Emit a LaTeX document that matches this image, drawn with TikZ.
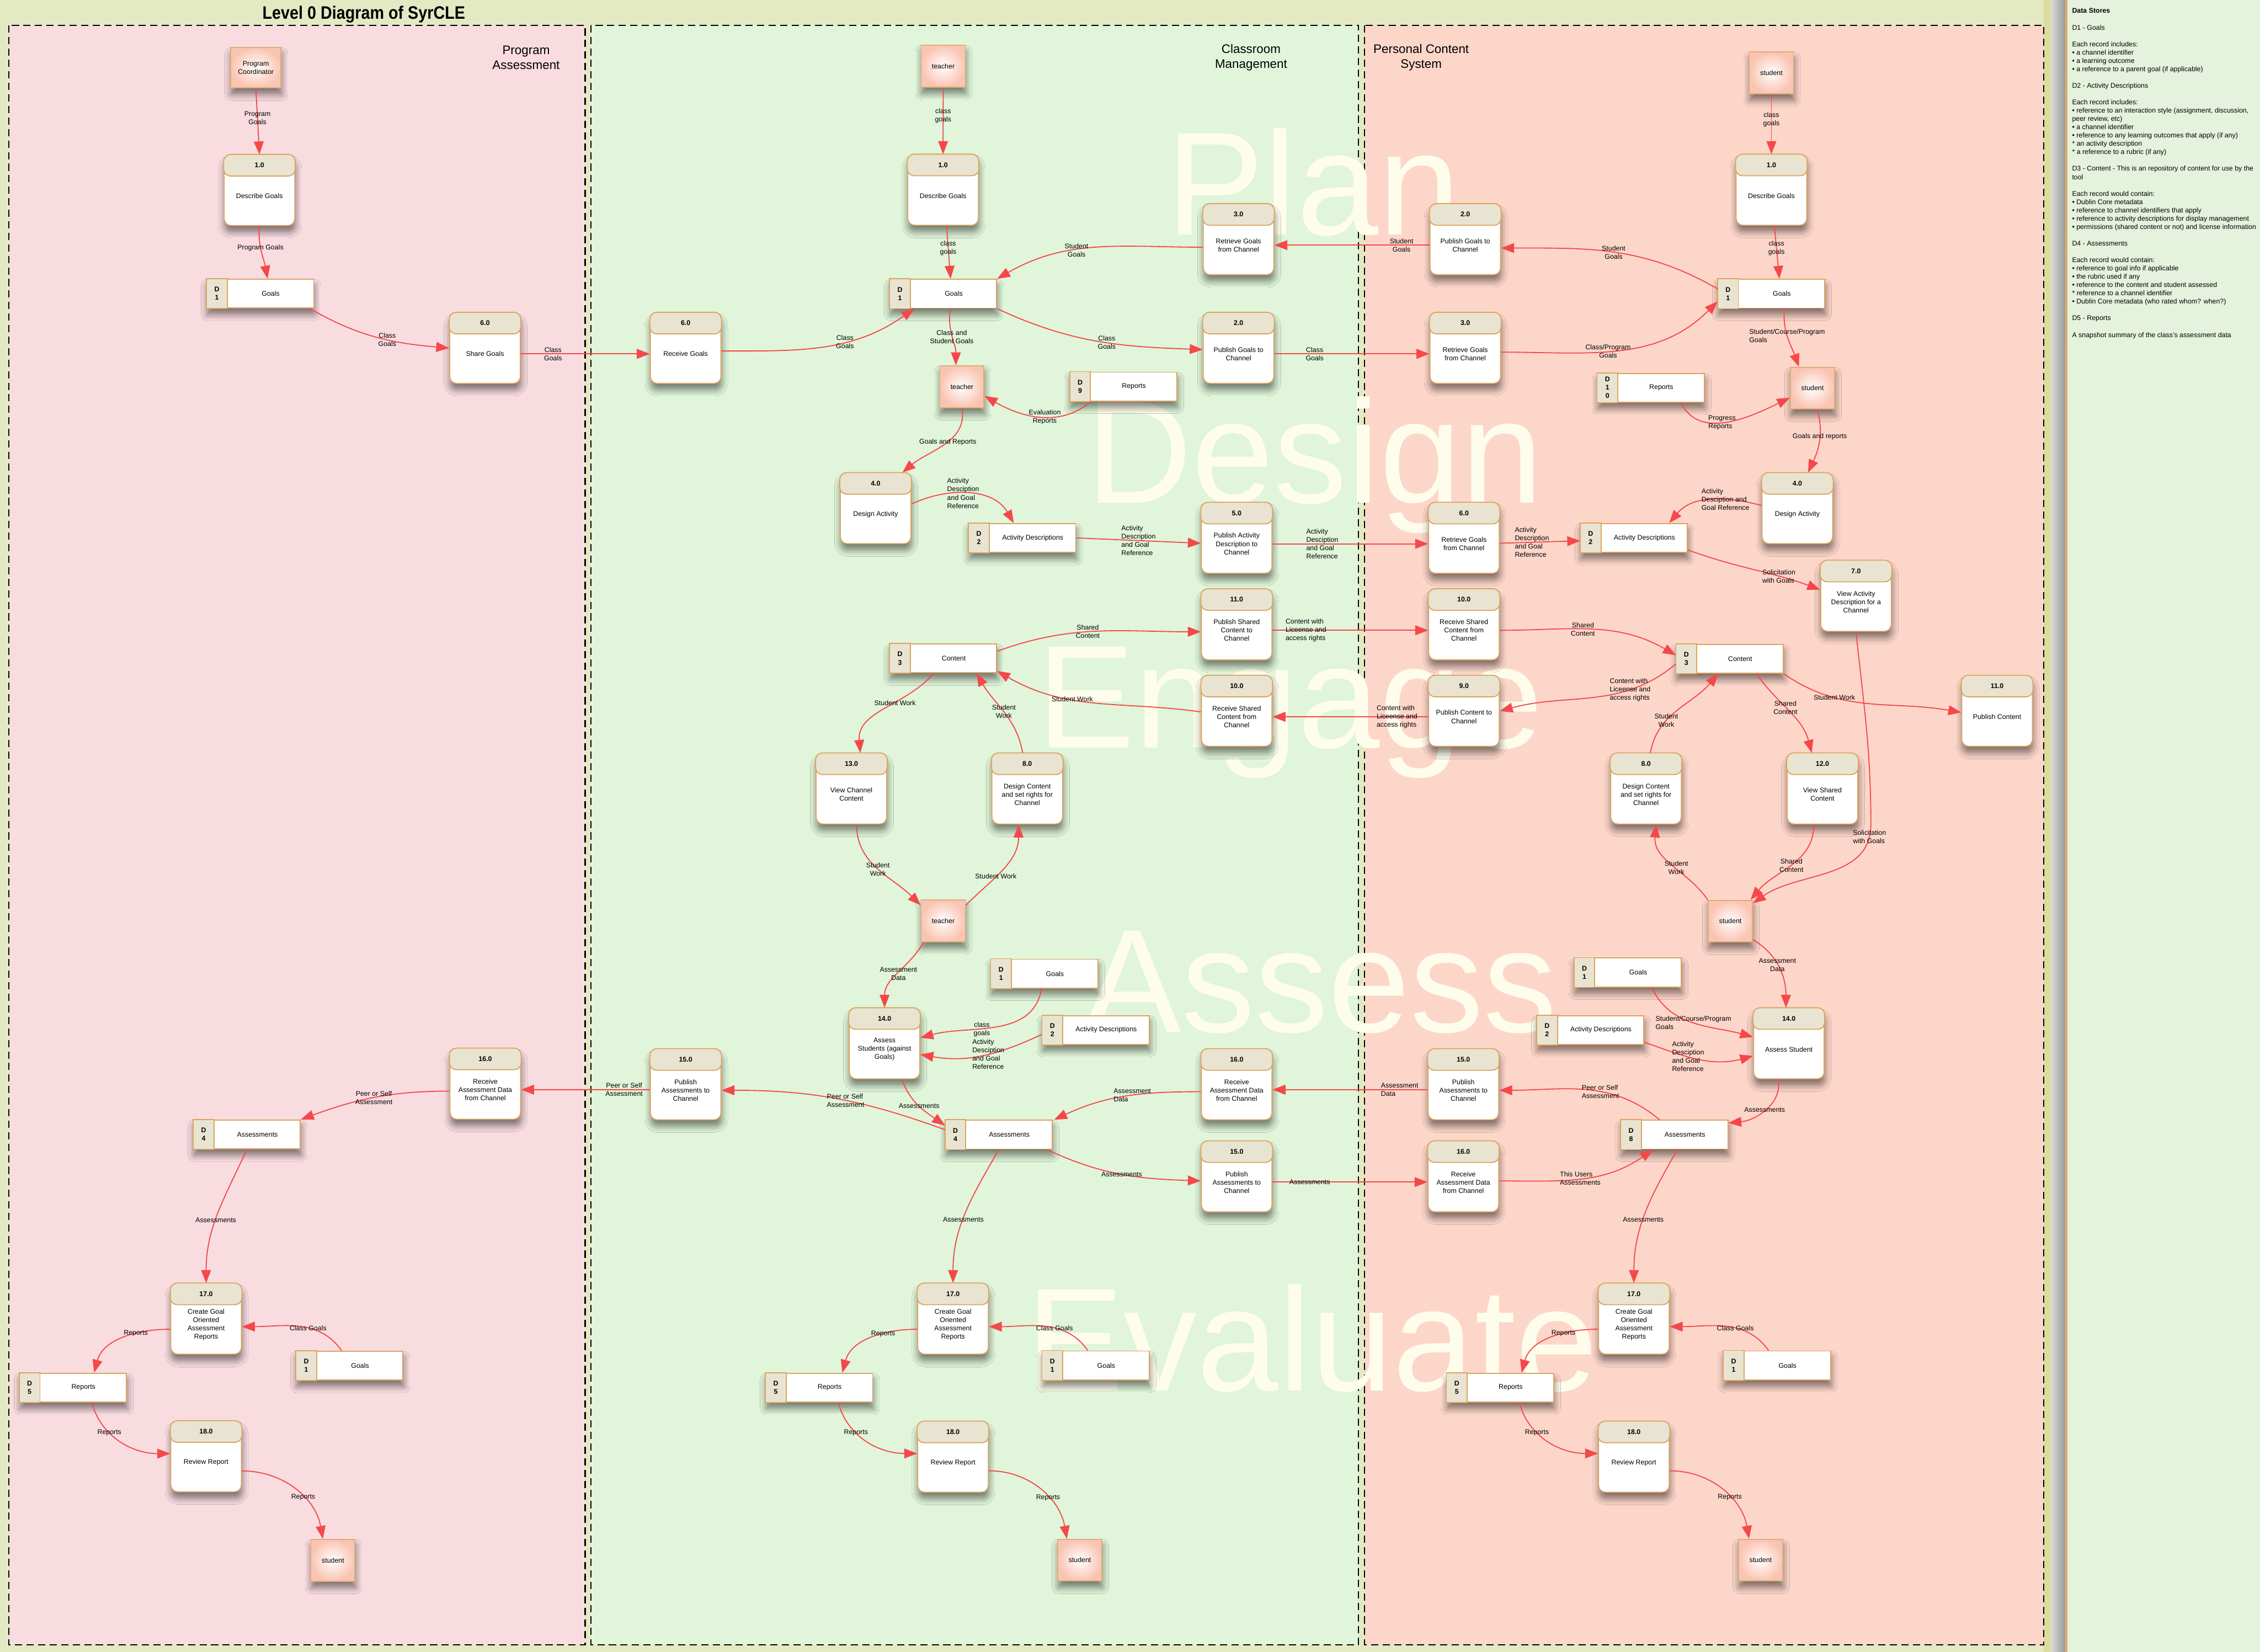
\documentclass[tikz,border=0pt]{standalone}
\usepackage{fontspec}
\setmainfont{Liberation Sans}
\newfontfamily\titlefont[FakeStretch=0.88]{Liberation Sans}
\usetikzlibrary{arrows.meta, shadows, shadows.blur}

\definecolor{boxline}{HTML}{DCA35E}
\definecolor{headfill}{HTML}{E8E4D1}
\definecolor{entityfill}{HTML}{FAC4B2}
\definecolor{entityline}{HTML}{DDAE78}
\definecolor{flowred}{HTML}{F5484A}
\definecolor{laneone}{HTML}{F8DCE0}
\definecolor{lanetwo}{HTML}{E0F5DA}
\definecolor{lanethree}{HTML}{FDD6CA}
\definecolor{canvas}{HTML}{E3EAC3}
\definecolor{markcol}{HTML}{FEFDEC}
\definecolor{sidefill}{HTML}{E5F2DC}
\definecolor{sideline}{HTML}{E2AA6A}
\definecolor{khaki}{HTML}{DCDC9E}

\newcommand{\dfsize}{\fontsize{6.75}{8.2}\selectfont}
% process: name, position, number, text
\newcommand{\dfproc}[4]{%
  \node[procbox] (#1) at (#2) {};
  \draw[prochead] (#1.north west) rectangle ([yshift=-0.75cm]#1.north east);
  \node[procnum] (#1-id) at ([yshift=-0.375cm]#1.north) {#3};
  \node[proctext] (#1-txt) at ([yshift=-0.2cm]#1.center) {#4};
}
% data store: name, position, id, text
\newcommand{\dfstore}[4]{%
  \node[storebox] (#1) at (#2) {};
  \draw[storetab] (#1.north west) rectangle ([xshift=0.72cm]#1.south west);
  \node[storenum] (#1-id) at ([xshift=0.36cm]#1.west) {#3};
  \node[storetext] (#1-txt) at ([xshift=0.36cm]#1.center) {#4};
}

\begin{document}
\begin{tikzpicture}[x=0.05cm, y=-0.05cm, every node/.style={font=\dfsize}]
  % styles
  \tikzstyle{boxshadow}=[blur shadow={shadow xshift=0.02cm, shadow yshift=-0.22cm, shadow blur radius=0.22cm, shadow blur steps=8, shadow opacity=50}]
  \tikzstyle{procbox}=[rectangle, rounded corners=0.24cm, minimum width=2.45cm, minimum height=2.45cm, draw=boxline, line width=1pt, fill=white, boxshadow]
  \tikzstyle{prochead}=[draw=boxline, line width=1pt, fill=headfill, rounded corners=0.24cm]
  \tikzstyle{procnum}=[font=\dfsize\bfseries, inner sep=0pt]
  \tikzstyle{proctext}=[align=center, inner sep=0pt]
  \tikzstyle{storebox}=[rectangle, minimum width=3.7cm, minimum height=1.0cm, draw=boxline, line width=1pt, fill=white, boxshadow]
  \tikzstyle{storetab}=[draw=boxline, line width=1pt, fill=headfill]
  \tikzstyle{storenum}=[font=\dfsize\bfseries, align=center, inner sep=0pt]
  \tikzstyle{storetext}=[inner sep=0pt]
  \tikzstyle{entity}=[rectangle, minimum width=1.53cm, minimum height=1.45cm, align=center, draw=entityline, line width=1pt, inner color=white, outer color=entityfill, boxshadow]
  \tikzstyle{flow}=[draw=flowred, line width=1pt, -{Triangle[length=0.45cm, width=0.34cm]}]
  \tikzstyle{lbl}=[align=center, inner sep=0pt]
  \tikzstyle{lanebox}=[draw=black, line width=1.2pt, dash pattern=on 0.25cm off 0.15cm]
  \tikzstyle{lanetitle}=[font=\fontsize{12.2}{14.9}\selectfont, align=center]
  \tikzstyle{watermark}=[font=\fontsize{145}{150}\selectfont, text=markcol, anchor=base, inner sep=0pt]

  \useasboundingbox (0,0) rectangle (1568,1146);

  % background and lanes
  \fill[canvas] (0,0) rectangle (1422,1146);
  \fill[khaki] (1418,0) rectangle (1423,1146);
  \shade[left color=black!15, right color=black!40] (1423,0) rectangle (1433,1146);
  \fill[sidefill] (1433,0) rectangle (1568,1146);
  \draw[sideline, line width=2pt] (1433.5,0) -- (1433.5,1146);
  \draw[lanebox, fill=laneone] (6,17.5) rectangle (406,1141);
  \draw[lanebox, fill=lanetwo] (410,17.5) rectangle (942.5,1141);
  \draw[lanebox, fill=lanethree] (946.8,17.5) rectangle (1418,1141);

  \node[font=\titlefont\fontsize{17.8}{20}\selectfont\bfseries] (title) at (252.4,10) {Level 0 Diagram of SyrCLE};
  \node[lanetitle] (pa_title) at (365,40) {Program\\Assessment};
  \node[lanetitle] (cm_title) at (868,40) {Classroom\\Management};
  \node[lanetitle] (pc_title) at (986,40) {Personal Content\\System};

  \node[watermark] (mark_plan) at (911,163) {Plan};
  \node[watermark] (mark_design) at (912,349) {Design};
  \node[watermark] (mark_engage) at (895,519) {Engage};
  \node[watermark] (mark_assess) at (916,716) {Assess};
  \node[watermark] (mark_evaluate) at (910,965) {Evaluate};

  % data store notes
  \node[anchor=north west, align=left, inner sep=0pt] (notes) at (1437.5,5.7) {%
    \textbf{Data Stores}\\[8.2pt]
    D1 - Goals\\[8.2pt]
    Each record includes:\\
    • a channel identifier\\
    • a learning outcome\\
    • a reference to a parent goal (if applicable)\\[8.2pt]
    D2 - Activity Descriptions\\[8.2pt]
    Each record includes:\\
    • reference to an interaction style (assignment, discussion,\\
    peer review, etc)\\
    • a channel identifier\\
    • reference to any learning outcomes that apply (if any)\\
    * an activity description\\
    * a reference to a rubric (if any)\\[8.2pt]
    D3 - Content - This is an repository of content for use by the\\
    tool\\[8.2pt]
    Each record would contain:\\
    • Dublin Core metadata\\
    • reference to channel identifiers that apply\\
    • reference to activity descriptions for display management\\
    • permissions (shared content or not) and license information\\[8.2pt]
    D4 - Assessments\\[8.2pt]
    Each record would contain:\\
    • reference to goal info if applicable\\
    • the rubric used if any\\
    • reference to the content and student assessed\\
    * reference to a channel identifier\\
    • Dublin Core metadata (who rated whom? when?)\\[8.2pt]
    D5 - Reports\\[8.2pt]
    A snapshot summary of the class's assessment data};

  % Program Assessment
  \node[entity, minimum width=1.75cm, minimum height=1.4cm] (pa_coord) at (177.5,47) {Program\\Coordinator};
  \dfproc{pa_describe}{180,132}{1.0}{Describe Goals}
  \dfstore{pa_goals}{180.6,203.7}{D\\1}{Goals}
  \dfproc{pa_share}{336.5,241.5}{6.0}{Share Goals}
  \dfproc{pa_receive_assess}{336.7,752}{16.0}{Receive\\Assessment Data\\from Channel}
  \dfstore{pa_assessments}{171.4,787}{D\\4}{Assessments}
  \dfproc{pa_create}{143,915}{17.0}{Create Goal\\Oriented\\Assessment\\Reports}
  \dfstore{pa_goals2}{242.6,947.4}{D\\1}{Goals}
  \dfstore{pa_reports}{50.7,962.7}{D\\5}{Reports}
  \dfproc{pa_review}{143,1010.5}{18.0}{Review Report}
  \node[entity] (pa_student) at (231,1082.5) {student};

  % Classroom Management
  \node[entity] (cm_teacher) at (654.4,45.9) {teacher};
  \dfproc{cm_describe}{654.3,131.8}{1.0}{Describe Goals}
  \dfstore{cm_goals}{654.5,203.8}{D\\1}{Goals}
  \dfproc{cm_retrieve}{859.3,166.1}{3.0}{Retrieve Goals\\from Channel}
  \dfproc{cm_receive}{475.7,241.5}{6.0}{Receive Goals}
  \dfproc{cm_publish}{859.3,241.5}{2.0}{Publish Goals to\\Channel}
  \node[entity] (cm_teacher2) at (667.4,268.3) {teacher};
  \dfstore{cm_reports9}{779.5,268.2}{D\\9}{Reports}
  \dfproc{cm_design}{607.5,352.7}{4.0}{Design Activity}
  \dfstore{cm_activities}{709.3,373.2}{D\\2}{Activity Descriptions}
  \dfproc{cm_publish_act}{858,373.3}{5.0}{Publish Activity\\Description to\\Channel}
  \dfproc{cm_publish_shared}{858,433.3}{11.0}{Publish Shared\\Content to\\Channel}
  \dfproc{cm_receive_shared}{858,493.3}{10.0}{Receive Shared\\Content from\\Channel}
  \dfstore{cm_content}{654.5,456.8}{D\\3}{Content}
  \dfproc{cm_view}{590.7,547.2}{13.0}{View Channel\\Content}
  \dfproc{cm_design_content}{712.7,547.2}{8.0}{Design Content\\and set rights for\\Channel}
  \node[entity] (cm_teacher3) at (654.4,638.9) {teacher};
  \dfstore{cm_goals2}{724.7,675.5}{D\\1}{Goals}
  \dfproc{cm_assess}{613.7,724}{14.0}{Assess\\Students (against\\Goals)}
  \dfstore{cm_activities2}{760.3,714.6}{D\\2}{Activity Descriptions}
  \dfproc{cm_publish_assess}{475.7,752.4}{15.0}{Publish\\Assessments to\\Channel}
  \dfproc{cm_receive_assess}{858,752.4}{16.0}{Receive\\Assessment Data\\from Channel}
  \dfstore{cm_assessments}{693,787.2}{D\\4}{Assessments}
  \dfproc{cm_publish_assess2}{858,816.3}{15.0}{Publish\\Assessments to\\Channel}
  \dfproc{cm_create}{661.2,915}{17.0}{Create Goal\\Oriented\\Assessment\\Reports}
  \dfstore{cm_goals3}{760.3,947.3}{D\\1}{Goals}
  \dfstore{cm_reports}{568.4,962.7}{D\\5}{Reports}
  \dfproc{cm_review}{661.2,1010.8}{18.0}{Review Report}
  \node[entity] (cm_student) at (749.2,1082.4) {student};

  % Personal Content System
  \node[entity] (pc_student) at (1229,50.6) {student};
  \dfproc{pc_describe}{1229,131.8}{1.0}{Describe Goals}
  \dfstore{pc_goals}{1229,203.8}{D\\1}{Goals}
  \dfproc{pc_publish}{1016.6,166.1}{2.0}{Publish Goals to\\Channel}
  \dfproc{pc_retrieve}{1016.6,241.5}{3.0}{Retrieve Goals\\from Channel}
  \dfstore{pc_reports10}{1145.4,269}{D\\1\\0}{Reports}
  \node[entity] (pc_student2) at (1257.5,269.3) {student};
  \dfproc{pc_design}{1247,352.7}{4.0}{Design Activity}
  \dfproc{pc_retrieve_act}{1015.7,373.3}{6.0}{Retrieve Goals\\from Channel}
  \dfstore{pc_activities}{1133.7,373.2}{D\\2}{Activity Descriptions}
  \dfproc{pc_view_act}{1287.7,413.5}{7.0}{View Activity\\Description for a\\Channel}
  \dfproc{pc_receive_shared}{1015.7,433.3}{10.0}{Receive Shared\\Content from\\Channel}
  \dfstore{pc_content}{1200.1,457}{D\\3}{Content}
  \dfproc{pc_publish_own}{1015.7,493.3}{9.0}{Publish Content to\\Channel}
  \dfproc{pc_publish_content}{1385.6,493.3}{11.0}{Publish Content}
  \dfproc{pc_design_content}{1142,547.2}{8.0}{Design Content\\and set rights for\\Channel}
  \dfproc{pc_view_shared}{1264.4,547.2}{12.0}{View Shared\\Content}
  \node[entity] (pc_student3) at (1200.5,639.1) {student};
  \dfstore{pc_goals2}{1129.4,674.7}{D\\1}{Goals}
  \dfstore{pc_activities2}{1103.5,714.6}{D\\2}{Activity Descriptions}
  \dfproc{pc_assess}{1241.1,724}{14.0}{Assess Student}
  \dfproc{pc_publish_assess}{1015.3,752.4}{15.0}{Publish\\Assessments to\\Channel}
  \dfproc{pc_receive_assess}{1015.3,816.3}{16.0}{Receive\\Assessment Data\\from Channel}
  \dfstore{pc_assessments}{1161.8,787.2}{D\\8}{Assessments}
  \dfproc{pc_create}{1133.6,915}{17.0}{Create Goal\\Oriented\\Assessment\\Reports}
  \dfstore{pc_goals3}{1233,947.3}{D\\1}{Goals}
  \dfstore{pc_reports}{1040.9,962.7}{D\\5}{Reports}
  \dfproc{pc_review}{1133.6,1010.8}{18.0}{Review Report}
  \node[entity] (pc_student4) at (1221.5,1082.4) {student};
  \coordinate (sol_bend) at (1298,572);

  % flows: Program Assessment
  \draw[flow] (pa_coord.south) -- node[lbl, pos=0.45] {Program\\Goals} (pa_describe.north);
  \draw[flow] (pa_describe.south) to[out=-95, in=100] node[lbl, pos=0.4] {Program Goals} ([xshift=0.25cm]pa_goals.north);
  \draw[flow] ([xshift=-0.15cm]pa_goals.south east) to[out=-30, in=175] node[lbl, pos=0.58] {Class\\Goals} (pa_share.west);
  \draw[flow] ([yshift=-0.2cm]pa_share.east) -- node[lbl, pos=0.25] {Class\\Goals} ([yshift=-0.2cm]cm_receive.west);
  \draw[flow] ([yshift=-0.18cm]cm_publish_assess.west) -- node[lbl, pos=0.2] {Peer or Self\\Assessment} ([yshift=-0.2cm]pa_receive_assess.east);
  \draw[flow] ([yshift=-0.25cm]pa_receive_assess.west) to[out=180, in=20] node[lbl, pos=0.5] {Peer or Self\\Assessment} (pa_assessments.north east);
  \draw[flow] (pa_assessments.south) to[out=-115, in=90] node[lbl, pos=0.55] {Assessments} (pa_create.north);
  \draw[flow] ([xshift=-0.28cm]pa_goals2.north) to[out=125, in=0] node[lbl, pos=0.4] {Class Goals} ([yshift=-0.27cm]pa_create.east);
  \draw[flow] ([yshift=-0.36cm]pa_create.west) to[out=180, in=75] node[lbl, pos=0.35] {Reports} ([xshift=0.73cm]pa_reports.north);
  \draw[flow] ([xshift=0.65cm]pa_reports.south) to[out=-75, in=180] node[lbl, pos=0.35] {Reports} ([yshift=0.1cm]pa_review.west);
  \draw[flow] ([yshift=-0.5cm]pa_review.east) to[out=0, in=100] node[lbl, pos=0.6] {Reports} ([xshift=-0.35cm]pa_student.north);

  % flows: Classroom Management
  \draw[flow] (cm_teacher.south) -- node[lbl, pos=0.42] {class\\goals} (cm_describe.north);
  \draw[flow] ([xshift=0.12cm]cm_describe.south) -- node[lbl, pos=0.42] {class\\goals} ([xshift=0.25cm]cm_goals.north);
  \draw[flow] ([yshift=-0.27cm]cm_retrieve.west) to[out=180, in=30] node[lbl, pos=0.6] {Student\\Goals} (cm_goals.north east);
  \draw[flow] ([yshift=-0.1cm]cm_receive.east) to[out=0, in=-145] node[lbl, pos=0.62] {Class\\Goals} ([xshift=0.86cm]cm_goals.south west);
  \draw[flow] (cm_goals.south east) to[out=-25, in=178] node[lbl, pos=0.55] {Class\\Goals} ([yshift=-0.05cm]cm_publish.west);
  \draw[flow] ([xshift=0.25cm]cm_goals.south) to[out=-100, in=90] node[lbl, pos=0.5] {Class and\\Student Goals} ([xshift=-0.21cm]cm_teacher2.north);
  \draw[flow] ([xshift=0.74cm]cm_reports9.south west) to[out=-140, in=-30] node[lbl, pos=0.45] {Evaluation\\Reports} ([yshift=-0.32cm]cm_teacher2.east);
  \draw[flow] (cm_teacher2.south) to[out=-80, in=40] node[lbl, pos=0.45] {Goals and Reports} ([xshift=0.93cm]cm_design.north);
  \draw[flow] ([yshift=0.15cm]cm_design.east) to[out=25, in=120] node[lbl, align=left, pos=0.45] {Activity\\Desciption\\and Goal\\Reference} ([xshift=-0.3cm]cm_activities.north);
  \draw[flow] (cm_activities.east) -- node[lbl, align=left, pos=0.5] {Activity\\Description\\and Goal\\Reference} ([yshift=-0.18cm]cm_publish_act.west);
  \draw[flow] ([yshift=-0.2cm]cm_publish_act.east) -- node[lbl, align=left, pos=0.32] {Activity\\Desciption\\and Goal\\Reference} ([yshift=-0.2cm]pc_retrieve_act.west);
  \draw[flow] ([yshift=-0.2cm]pc_publish.west) -- node[lbl, pos=0.18] {Student\\Goals} ([yshift=-0.2cm]cm_retrieve.east);
  \draw[flow] ([yshift=-0.2cm]cm_publish.east) -- node[lbl, pos=0.26] {Class\\Goals} ([yshift=-0.2cm]pc_retrieve.west);
  \draw[flow] ([yshift=0.25cm]cm_content.east) to[out=20, in=180] node[lbl, pos=0.45] {Shared\\Content} ([yshift=-0.25cm]cm_publish_shared.west);
  \draw[flow] ([yshift=-0.03cm]cm_receive_shared.west) to[out=172, in=-30] node[lbl, pos=0.62] {Student Work} ([yshift=0.08cm]cm_content.south east);
  \draw[flow] ([xshift=-0.34cm]cm_content.south) to[out=-130, in=95] node[lbl, pos=0.4] {Student Work} ([xshift=0.31cm]cm_view.north);
  \draw[flow] ([xshift=-0.16cm]cm_design_content.north) to[out=100, in=-60] node[lbl, pos=0.5] {Student\\Work} ([xshift=1.15cm]cm_content.south);
  \draw[flow] ([xshift=0.18cm]cm_view.south) to[out=-90, in=135] node[lbl, pos=0.5] {Student\\Work} ([yshift=-0.2cm]cm_teacher3.north west);
  \draw[flow] ([yshift=-0.2cm]cm_teacher3.north east) to[out=45, in=-90] node[lbl, pos=0.4] {Student Work} ([xshift=-0.3cm]cm_design_content.south);
  \draw[flow] ([xshift=-0.68cm]cm_teacher3.south) to[out=-120, in=90] node[lbl, pos=0.5] {Assessment\\Data} (cm_assess.north);
  \draw[flow] ([yshift=-0.2cm]cm_publish_shared.east) -- node[lbl, align=left, pos=0.215] {Content with\\Liceense and\\access rights} ([yshift=-0.2cm]pc_receive_shared.west);
  \draw[flow] ([yshift=-0.2cm]pc_publish_own.west) -- node[lbl, align=left, pos=0.2] {Content with\\Liceense and\\access rights} ([yshift=-0.2cm]cm_receive_shared.east);
  \draw[flow] ([xshift=-0.1cm]cm_goals2.south) to[out=-100, in=15] node[lbl, pos=0.6] {class\\goals} ([yshift=0.2cm]cm_assess.east);
  \draw[flow] ([yshift=-0.15cm]cm_activities2.west) to[out=-155, in=-10] node[lbl, align=left, pos=0.45] {Activity\\Desciption\\and Goal\\Reference} ([yshift=-0.38cm]cm_assess.east);
  \draw[flow] ([yshift=-0.25cm]cm_receive_assess.west) to[out=180, in=25] node[lbl, align=left, pos=0.45] {Assessment\\Data} ([xshift=0.05cm]cm_assessments.north east);
  \draw[flow] ([yshift=0.17cm]cm_assessments.west) to[out=160, in=0] node[lbl, align=left, pos=0.45] {Peer or Self\\Assessment} ([yshift=-0.2cm]cm_publish_assess.east);
  \draw[flow] ([xshift=0.6cm]cm_assess.south) to[out=-70, in=145] node[lbl, pos=0.5] {Assessments} ([yshift=-0.2cm]cm_assessments.north west);
  \draw[flow] ([xshift=-0.2cm]cm_assessments.south east) to[out=-25, in=178] node[lbl, pos=0.5] {Assessments} ([yshift=-0.15cm]cm_publish_assess2.west);
  \draw[flow] ([yshift=-0.19cm]cm_publish_assess2.east) -- node[lbl, pos=0.24] {Assessments} ([yshift=-0.19cm]pc_receive_assess.west);
  \draw[flow] (cm_assessments.south) to[out=-120, in=90] node[lbl, pos=0.55] {Assessments} (cm_create.north);
  \draw[flow] ([xshift=-0.28cm]cm_goals3.north) to[out=125, in=0] node[lbl, pos=0.4] {Class Goals} ([yshift=-0.27cm]cm_create.east);
  \draw[flow] ([yshift=-0.36cm]cm_create.west) to[out=180, in=75] node[lbl, pos=0.35] {Reports} ([xshift=0.8cm]cm_reports.north);
  \draw[flow] ([xshift=0.66cm]cm_reports.south) to[out=-75, in=180] node[lbl, pos=0.35] {Reports} ([yshift=0.12cm]cm_review.west);
  \draw[flow] ([yshift=-0.48cm]cm_review.east) to[out=0, in=100] node[lbl, pos=0.6] {Reports} ([xshift=-0.45cm]cm_student.north);

  % flows: Personal Content System
  \draw[flow] (pc_student.south) -- node[lbl, pos=0.42] {class\\goals} (pc_describe.north);
  \draw[flow] ([xshift=0.1cm]pc_describe.south) -- node[lbl, pos=0.42] {class\\goals} ([xshift=0.28cm]pc_goals.north);
  \draw[flow] ([yshift=0.17cm]pc_goals.west) to[out=150, in=0] node[lbl, pos=0.5] {Student\\Goals} ([yshift=-0.3cm]pc_publish.east);
  \draw[flow] ([yshift=-0.14cm]pc_retrieve.east) to[out=0, in=-135] node[lbl, pos=0.45] {Class/Program\\Goals} ([yshift=0.25cm]pc_goals.south west);
  \draw[flow] ([xshift=0.45cm]pc_goals.south) to[out=-95, in=110] node[lbl, align=left, pos=0.45] {Student/Course/Program\\Goals} ([xshift=-0.47cm]pc_student2.north);
  \draw[flow] ([xshift=1.05cm]pc_reports10.south) to[out=-65, in=-154] node[lbl, align=left, pos=0.45] {Progress\\Reports} ([yshift=-0.33cm]pc_student2.west);
  \draw[flow] ([xshift=0.17cm]pc_student2.south) to[out=-75, in=65] node[lbl, pos=0.42] {Goals and reports} ([xshift=0.37cm]pc_design.north);
  \draw[flow] ([yshift=0.1cm]pc_design.west) to[out=165, in=50] node[lbl, align=left, pos=0.35] {Activity\\Desciption and\\Goal Reference} ([xshift=1.22cm]pc_activities.north);
  \draw[flow] ([yshift=-0.18cm]pc_retrieve_act.east) -- node[lbl, align=left, pos=0.4] {Activity\\Description\\and Goal\\Reference} ([yshift=-0.1cm]pc_activities.west);
  \draw[flow] ([yshift=0.1cm]pc_activities.south east) to[out=-20, in=160] node[lbl, align=left, pos=0.7] {Solicitation\\with Goals} ([yshift=0.22cm]pc_view_act.west);
  \draw[flow] (pc_view_act.south) to[out=-84, in=90] (sol_bend) to[out=-90, in=35] node[lbl, align=left, pos=0.08] {Solicitation\\with Goals} ([yshift=-0.12cm]pc_student3.north east);
  \draw[flow] ([yshift=-0.2cm]pc_receive_shared.east) to[out=0, in=150] node[lbl, pos=0.45] {Shared\\Content} ([yshift=0.12cm]pc_content.west);
  \draw[flow] ([yshift=-0.18cm]pc_content.west) to[out=-140, in=15] node[lbl, align=left, pos=0.28] {Content with\\Liceense and\\access rights} (pc_publish_own.east);
  \draw[flow] (pc_content.south east) to[out=-35, in=170] node[lbl, pos=0.3] {Student Work} ([yshift=-0.05cm]pc_publish_content.west);
  \draw[flow] ([xshift=0.92cm]pc_content.south) to[out=-55, in=105] node[lbl, pos=0.45] {Shared\\Content} ([xshift=-0.37cm]pc_view_shared.north);
  \draw[flow] ([xshift=0.15cm]pc_design_content.north) to[out=80, in=-130] node[lbl, pos=0.35] {Student\\Work} ([xshift=-0.4cm]pc_content.south);
  \draw[flow] (pc_student3.north west) to[out=125, in=-95] node[lbl, pos=0.45] {Student\\Work} ([xshift=0.35cm]pc_design_content.south);
  \draw[flow] ([xshift=-0.3cm]pc_view_shared.south) to[out=-90, in=50] node[lbl, pos=0.5] {Shared\\Content} ([xshift=-0.08cm]pc_student3.north east);
  \draw[flow] ([yshift=0.1cm]pc_student3.south east) to[out=-30, in=90] node[lbl, pos=0.45] {Assessment\\Data} ([xshift=-0.1cm]pc_assess.north);
  \draw[flow] ([yshift=-0.18cm]pc_publish_assess.west) -- node[lbl, align=left, pos=0.18] {Assessment\\Data} ([yshift=-0.18cm]cm_receive_assess.east);
  \draw[flow] ([xshift=0.83cm]pc_goals2.south) to[out=-65, in=165] node[lbl, align=left, pos=0.5] {Student/Course/Program\\Goals} ([yshift=0.23cm]pc_assess.west);
  \draw[flow] ([yshift=-0.42cm]pc_activities2.east) to[out=-20, in=-165] node[lbl, align=left, pos=0.4] {Activity\\Desciption\\and Goal\\Reference} ([yshift=-0.43cm]pc_assess.west);
  \draw[flow] ([xshift=-0.52cm]pc_assessments.north) to[out=140, in=0] node[lbl, align=left, pos=0.4] {Peer or Self\\Assessment} ([yshift=-0.2cm]pc_publish_assess.east);
  \draw[flow] ([xshift=-0.37cm]pc_assess.south) to[out=-80, in=5] node[lbl, pos=0.5] {Assessments} ([yshift=-0.11cm]pc_assessments.north east);
  \draw[flow] ([yshift=-0.15cm]pc_receive_assess.east) to[out=0, in=-145] node[lbl, align=left, pos=0.5] {This Users\\Assessments} ([xshift=1.12cm]pc_assessments.south west);
  \draw[flow] ([xshift=0.1cm]pc_assessments.south) to[out=-120, in=90] node[lbl, pos=0.55] {Assessments} (pc_create.north);
  \draw[flow] ([xshift=-0.3cm]pc_goals3.north) to[out=125, in=0] node[lbl, pos=0.4] {Class Goals} ([yshift=-0.27cm]pc_create.east);
  \draw[flow] ([yshift=-0.36cm]pc_create.west) to[out=180, in=75] node[lbl, pos=0.35] {Reports} ([xshift=0.74cm]pc_reports.north);
  \draw[flow] ([xshift=0.66cm]pc_reports.south) to[out=-75, in=180] node[lbl, pos=0.35] {Reports} ([yshift=0.12cm]pc_review.west);
  \draw[flow] ([yshift=-0.48cm]pc_review.east) to[out=0, in=100] node[lbl, pos=0.6] {Reports} ([xshift=-0.4cm]pc_student4.north);
\end{tikzpicture}
\end{document}
